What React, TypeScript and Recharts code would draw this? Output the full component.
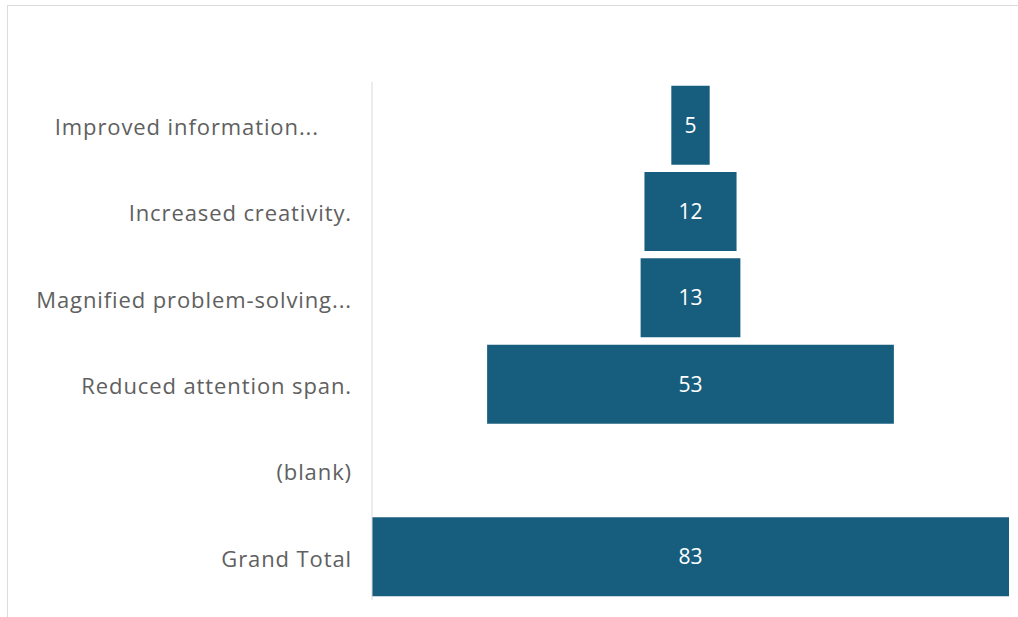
import { Bar, BarChart, LabelList, XAxis, YAxis } from "recharts";

// the first label is right-padded in the source picture
const categories = [
  "Improved information...\u00a0\u00a0\u00a0\u00a0\u00a0",
  "Increased creativity.",
  "Magnified problem-solving...",
  "Reduced attention span.",
  "(blank)",
  "Grand Total",
];
const counts: (number | null)[] = [5, 12, 13, 53, null, 83];
const maxCount = 83;

// funnel: an invisible spacer bar centres each visible bar
const data = categories.map((name, i) => {
  const v = counts[i];
  return {
    name,
    pad: v == null ? null : (maxCount - v) / 2,
    count: v,
  };
});

const font = "'Open Sans', 'Segoe UI', sans-serif";

export default function App() {
  return (
    <div style={{ position: "absolute", left: 0, top: 0, width: 1018, height: 617, background: "#fff", overflow: "hidden" }}>
      <div
        style={{
          position: "absolute",
          left: 7,
          top: 5,
          width: 1030,
          height: 640,
          borderTop: "1px solid #dcdcdc",
          borderLeft: "1px solid #dcdcdc",
        }}
      />
      <div style={{ position: "absolute", left: 0, top: 0 }}>
        <BarChart
          width={1018}
          height={617}
          data={data}
          layout="vertical"
          margin={{ top: 82, right: 9, left: 0, bottom: 17 }}
          barCategoryGap="4.2%"
        >
          <XAxis type="number" domain={[0, maxCount]} hide />
          <YAxis
            type="category"
            dataKey="name"
            width={372}
            tickLine={false}
            tickSize={0}
            tickMargin={20}
            axisLine={{ stroke: "#d9d9d9" }}
            tick={{ fontSize: 22, fill: "#606060", fontFamily: font, letterSpacing: 0.9, dy: 2 }}
            interval={0}
          />
          <Bar dataKey="pad" stackId="f" fill="transparent" isAnimationActive={false} />
          <Bar dataKey="count" stackId="f" fill="#175e7e" isAnimationActive={false}>
            <LabelList
              dataKey="count"
              position="center"
              fill="#ffffff"
              style={{ fontSize: 21, fontFamily: font }}
              formatter={(v: any) => (v == null ? "" : v)}
            />
          </Bar>
        </BarChart>
      </div>
    </div>
  );
}
